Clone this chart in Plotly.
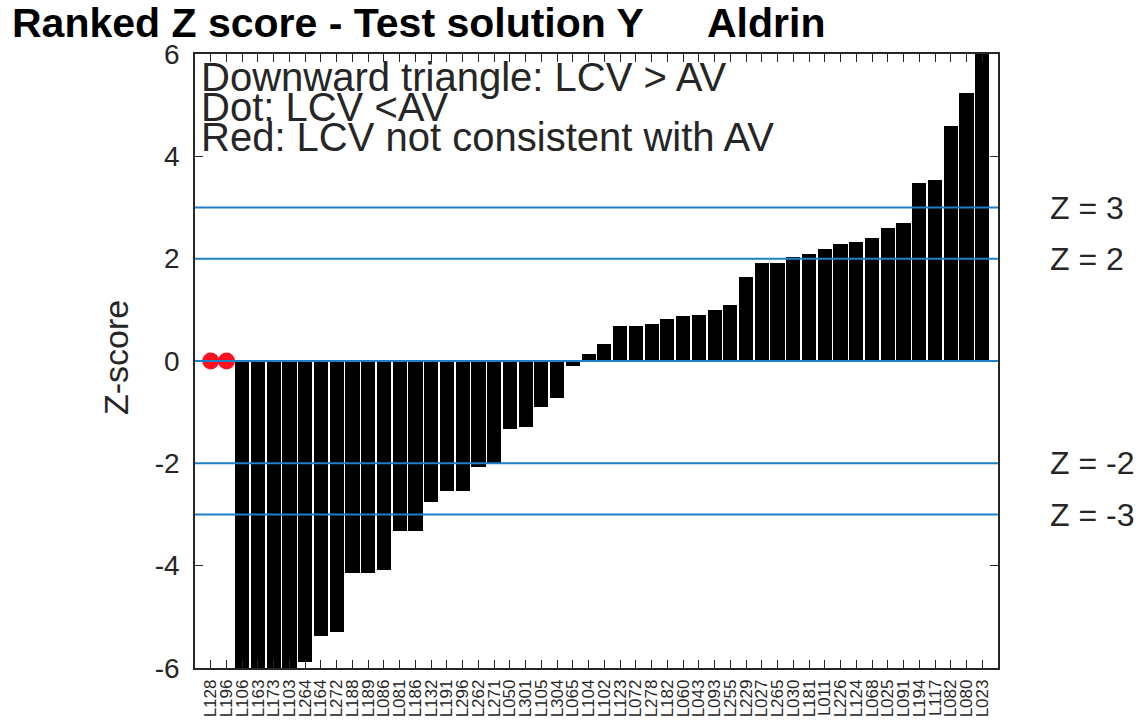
import plotly.graph_objects as go

labels = ["128","196","106","163","173","103","264","164","272","188","189","086",
          "081","186","132","191","296","262","271","050","301","105","304","065","104",
          "102","123","072","278","182","060","043","093","255","229","027","265","030",
          "181","011","226","124","068","025","091","194","117","082","080","023"]
tick_text = ["L" + s for s in labels]
zscores = [0.0, 0.0, -9.1, -7.6, -6.9, -6.3, -5.88, -5.37, -5.29, -4.15, -4.15, -4.08,
           -3.33, -3.33, -2.75, -2.55, -2.55, -2.08, -1.99, -1.32, -1.29, -0.90, -0.73, -0.10, 0.13,
           0.33, 0.69, 0.69, 0.72, 0.82, 0.87, 0.90, 0.99, 1.09, 1.65, 1.91, 1.91, 2.04,
           2.10, 2.18, 2.29, 2.33, 2.41, 2.60, 2.69, 3.48, 3.54, 4.59, 5.24, 6.8]
red_idx = [1, 2]
red_vals = [0.0, 0.0]
z_levels = [3, 2, 0, -2, -3]
z_label_levels = [3, 2, -2, -3]
y_ticks = [-6, -4, -2, 0, 2, 4, 6]
y_tick_text = ["-6", "-4", "-2", "0", "2", "4", "6"]

xs = list(range(1, len(zscores) + 1))
FONT = "Liberation Sans, Arial, sans-serif"
GRAY = "#262626"
BLUE = "#1f80c8"

W, H = 1141, 721
ML, MR, MT, MB = 195, 143, 54, 53
PW, PH = W - ML - MR, H - MT - MB


def px(xp):
    return (xp - ML) / PW


def py(yp):
    return 1 - (yp - MT) / PH


fig = go.Figure()
fig.add_trace(go.Bar(x=xs, y=zscores, width=0.9, marker=dict(color="black", line=dict(width=0)),
                     showlegend=False))
fig.add_trace(go.Scatter(x=red_idx, y=red_vals, mode="markers",
                         marker=dict(color="#ff1020", size=17, symbol="circle"),
                         showlegend=False, cliponaxis=False))

for z in z_levels:
    fig.add_shape(type="line", xref="x domain", yref="y", x0=0, x1=1, y0=z, y1=z,
                  line=dict(color=BLUE, width=2), layer="above")

for z in z_label_levels:
    fig.add_annotation(x=px(1048), xref="paper", y=z, yref="y", text=f"Z = {z}",
                       showarrow=False, xanchor="left", yanchor="middle",
                       font=dict(family=FONT, size=32, color=GRAY))

fig.update_layout(
    width=W, height=H,
    margin=dict(l=ML, r=MR, t=MT, b=MB, autoexpand=False),
    paper_bgcolor="white", plot_bgcolor="white",
    bargap=0,
    font=dict(family=FONT, color=GRAY),
)

fig.update_xaxes(range=[0, 51], tickvals=xs, ticktext=tick_text, tickangle=-90,
                 ticks="inside", ticklen=8, tickwidth=1, tickcolor=GRAY,
                 mirror="ticks", showline=True, linecolor=GRAY, linewidth=1.5,
                 showgrid=False, zeroline=False, automargin=False, ticklabelstandoff=3,
                 tickfont=dict(family=FONT, size=17, color=GRAY))
fig.update_yaxes(range=[-6, 6], tickvals=y_ticks, ticktext=y_tick_text,
                 ticks="inside", ticklen=8, tickwidth=1, tickcolor=GRAY,
                 mirror="ticks", showline=True, linecolor=GRAY, linewidth=1.5,
                 showgrid=False, zeroline=False, automargin=False, ticklabelstandoff=8,
                 tickfont=dict(family=FONT, size=28, color=GRAY))

fig.add_annotation(x=px(116), y=py(358), xref="paper", yref="paper", text="Z-score",
                   textangle=-90, showarrow=False, xanchor="center", yanchor="middle",
                   font=dict(family=FONT, size=34, color=GRAY))

fig.add_annotation(x=px(10), y=py(23), xref="paper", yref="paper",
                   text="<b>Ranked Z score - Test solution Y</b>",
                   showarrow=False, xanchor="left", yanchor="middle",
                   font=dict(family=FONT, size=41, color="black"))
fig.add_annotation(x=px(705), y=py(23), xref="paper", yref="paper", text="<b>Aldrin</b>",
                   showarrow=False, xanchor="left", yanchor="middle",
                   font=dict(family=FONT, size=41, color="black"))

legend_lines = ["Downward triangle: LCV > AV", "Dot: LCV <AV", "Red: LCV not consistent with AV"]
legend_y = [77, 107, 137]
for t, yy in zip(legend_lines, legend_y):
    fig.add_annotation(x=px(199), y=py(yy), xref="paper", yref="paper", text=t, showarrow=False,
                       xanchor="left", yanchor="middle", font=dict(family=FONT, size=40, color=GRAY))

fig.write_html("out.html", config={"displayModeBar": False},
               post_script="document.body.style.margin='0';document.documentElement.style.overflow='hidden';")
